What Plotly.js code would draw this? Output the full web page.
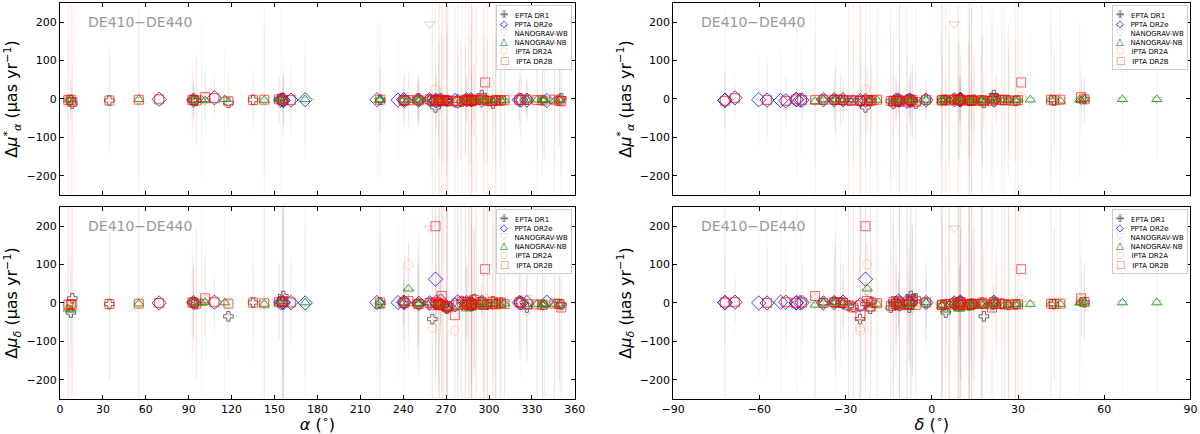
<!DOCTYPE html>
<html>
<head>
<meta charset="utf-8">
<script src="https://cdn.plot.ly/plotly-3.0.1.min.js"></script>
<style>
  html, body { margin: 0; padding: 0; background: #fff; }
  #chart { width: 1200px; height: 434px; }
</style>
</head>
<body>
<div id="chart"></div>
<script>
// pulsars: name, right ascension and declination (deg)
const psrName = ['J0023+0923','J0030+0451','J0034-0534','J0218+4232','J0340+4130','J0437-4715','J0610-2100','J0613-0200','J0621+1002','J0636+5128',
  'J0645+5158','J0711-6830','J0740+6620','J0751+1807','J0900-3144','J0931-1902','J1012+5307','J1017-7156','J1022+1001','J1024-0719',
  'J1045-4509','J1125-6014','J1125+7819','J1446-4701','J1453+1902','J1455-3330','J1545-4550','J1600-3053','J1603-7202','J1614-2230',
  'J1640+2224','J1643-1224','J1713+0747','J1721-2457','J1730-2304','J1732-5049','J1738+0333','J1741+1351','J1744-1134','J1747-4036',
  'J1751-2857','J1801-1417','J1802-2124','J1804-2717','J1824-2452A','J1832-0836','J1843-1113','J1853+1303','J1857+0943','J1903+0327',
  'J1909-3744','J1910+1256','J1911-1114','J1911+1347','J1918-0642','J1923+2515','J1939+2134','J1944+0907','J1946+3417','J1949+3106',
  'J1955+2908','J2010-1323','J2017+0603','J2019+2425','J2033+1734','J2043+1711','J2124-3358','J2129-5721','J2145-0750','J2214+3000',
  'J2229+2643','J2234+0611','J2234+0944','J2241-5236','J2302+4442','J2317+1439','J2322+2057'];
const psrRa = [5.82,7.61,8.59,34.53,55.10,69.32,92.56,93.43,95.31,99.02,
  101.46,107.98,115.19,117.79,135.05,142.83,153.14,154.46,155.74,156.16,
  161.46,171.48,171.44,221.65,223.35,223.95,236.37,240.22,240.97,243.65,
  250.07,250.91,258.46,260.36,262.59,263.20,264.70,265.38,266.12,266.95,
  267.86,270.42,270.54,271.20,276.13,278.13,280.92,283.47,284.40,285.80,
  287.45,287.54,287.96,287.96,289.70,290.98,294.91,296.01,296.60,297.30,
  298.89,302.67,304.34,304.86,308.34,310.84,321.18,322.32,326.46,333.66,
  337.38,338.60,338.70,340.42,345.70,349.29,350.57];
const psrDec = [9.39,4.86,-5.58,42.54,41.51,-47.25,-21.01,-2.01,10.04,51.48,
  51.98,-68.51,66.34,18.13,-31.74,-19.05,53.12,-71.95,10.03,-7.32,
  -45.16,-60.24,78.32,-47.02,19.04,-33.51,-45.84,-30.90,-72.05,-22.51,
  22.40,-12.42,7.79,-24.96,-23.08,-50.82,3.55,13.86,-11.58,-40.60,
  -28.96,-14.28,-21.41,-27.29,-24.87,-8.61,-11.23,13.06,9.72,3.46,
  -37.74,12.94,-11.24,13.80,-6.71,25.26,21.58,9.12,34.29,31.11,
  29.15,-13.39,6.05,24.42,17.58,17.19,-33.98,-57.35,-7.84,30.01,
  26.73,6.19,9.74,-52.61,44.71,14.66,20.96];

// EPTA DR1
const eptaPsr = ['J0030+0451','J0034-0534','J0218+4232','J0610-2100','J0613-0200','J0621+1002','J0751+1807','J0900-3144','J1012+5307','J1022+1001',
  'J1024-0719','J1455-3330','J1600-3053','J1640+2224','J1643-1224','J1713+0747','J1721-2457','J1730-2304','J1738+0333','J1744-1134',
  'J1751-2857','J1801-1417','J1802-2124','J1804-2717','J1843-1113','J1853+1303','J1857+0943','J1909-3744','J1910+1256','J1911+1347',
  'J1911-1114','J1918-0642','J1939+2134','J1955+2908','J2010-1323','J2019+2425','J2033+1734','J2124-3358','J2145-0750','J2229+2643',
  'J2317+1439','J2322+2057'];
const eptaDmuA = [-3,-12,-4,-3,-2,-5,-10,-2,0,2, -5,-2,-3,1,-4,-1,-5,-22,-3,-2, -4,-6,-5,-3,-7,-3,-1,-2,-5,-4, -6,-3,10,-5,-12,-3,-4,-2,-2,-3, -2,2];
const eptaDmuD = [-25,12,-3,2,1,-3,-35,1,2,3, 18,1,0,-2,-3,0,-42,-3,-5,-2, -8,-12,-15,-10,5,-4,2,0,-6,-2, -8,10,3,-4,4,-2,1,3,-12,-5, -3,-4];
const eptaErrA = [60,90,140,50,30,120,45,80,25,40, 70,90,30,40,45,8,180,150,110,20, 160,200,180,170,150,140,40,10,200,60, 90,50,20,160,70,180,170,50,40,120, 90,200];
const eptaErrD = [150,250,200,90,60,200,110,160,40,300, 200,180,60,80,150,15,300,260,220,80, 280,300,260,280,300,220,90,30,300,150, 240,180,40,300,200,300,280,100,150,240, 200,300];

// PPTA DR2e
const pptaPsr = ['J0437-4715','J0613-0200','J0711-6830','J1017-7156','J1022+1001','J1024-0719','J1045-4509','J1125-6014','J1446-4701','J1545-4550',
  'J1600-3053','J1603-7202','J1643-1224','J1713+0747','J1730-2304','J1732-5049','J1744-1134','J1824-2452A','J1832-0836','J1857+0943',
  'J1909-3744','J1939+2134','J2124-3358','J2129-5721','J2145-0750','J2241-5236'];
const pptaDmuA = [-1,-3,3,-3,-2,-4,-3,-2,-2,-3, -2,-4,-3,-2,-4,-5,-3,-4,-6,-2, -2,-3,-2,-3,-3,-4];
const pptaDmuD = [0,1,2,1,2,0,1,0,1,1, 2,1,-1,0,62,2,5,-5,3,1, 0,2,1,0,1,2];
const pptaErrA = [5,40,60,400,30,60,90,120,200,150, 30,80,50,10,90,70,20,100,120,60, 5,15,60,110,40,130];
const pptaErrD = [8,90,80,400,400,250,120,200,300,200, 60,400,120,20,250,150,60,300,200,90, 10,30,120,200,150,250];

// NANOGrav 12.5 yr (same pulsars for WB and NB)
const ngPsr = ['J0023+0923','J0030+0451','J0340+4130','J0613-0200','J0636+5128','J0645+5158','J0740+6620','J0931-1902','J1012+5307','J1024-0719',
  'J1125+7819','J1453+1902','J1455-3330','J1600-3053','J1614-2230','J1640+2224','J1643-1224','J1713+0747','J1738+0333','J1741+1351',
  'J1744-1134','J1747-4036','J1832-0836','J1853+1303','J1857+0943','J1903+0327','J1909-3744','J1910+1256','J1911+1347','J1918-0642',
  'J1923+2515','J1939+2134','J1944+0907','J1946+3417','J1955+2908','J2010-1323','J2017+0603','J2033+1734','J2043+1711','J2145-0750',
  'J2214+3000','J2229+2643','J2234+0611','J2234+0944','J2302+4442','J2317+1439'];
const ngwDmuA = [-3,-1,-2,-2,-3,-5,-2,-4,-1,-6, -2,-4,-3,-5,-2,-3,-4,195,-2,-5, -3,-5,-4,-3,-1,-6,-1,-5,-2,-3, -3,-2,-4,-3,-5,-5,-2,-4,-5,-2, -3,-4,-3,-3,-4,-2];
const ngwDmuD = [-12,-15,-3,2,1,3,0,-2,1,-1, 2,-6,1,1,30,0,-2,195,-5,-3, 0,-4,-8,-2,-12,-6,1,-10,-3,-1, -5,2,-8,-2,-4,-6,-2,-5,-1,14, -2,-4,-3,-1,-2,-5];
const ngwErrA = [160,45,200,55,210,95,130,200,65,110, 160,210,130,45,70,65,75,9,160,150, 35,180,170,150,55,180,12,170,85,95, 170,18,160,180,170,160,170,180,130,65, 170,150,160,170,170,130];
const ngwErrD = [300,100,300,130,300,160,250,300,110,250, 300,300,250,100,130,160,190,14,300,300, 90,300,300,280,130,300,22,300,210,210, 300,35,300,300,300,250,300,300,250,160, 300,280,300,300,300,260];
const ngbDmuA = [-2,0,-1,-3,-2,-4,-1,-3,-2,-5, -1,-3,-2,-4,-3,-2,-5,-1,-3,-4, -2,-6,-3,-4,-2,-5,-2,-6,-3,-4, -2,-3,-5,-2,-4,-6,-3,-5,-4,-3, -2,-3,-4,-2,-5,-3];
const ngbDmuD = [-15,-18,-2,1,0,2,1,-3,0,-2, 1,-8,2,0,37,-1,-3,0,-6,-4, -1,-5,-10,-3,-15,-8,0,-12,-4,-2, -6,1,-10,-3,-5,-8,-3,-6,-2,-4, -3,-5,-4,-2,-3,-6];
const ngbErrA = [150,40,200,50,200,90,120,180,60,100, 150,200,120,40,60,60,70,8,150,140, 30,170,160,140,50,170,10,160,80,90, 160,15,150,170,160,150,160,170,120,60, 160,140,150,160,160,120];
const ngbErrD = [300,90,300,120,300,150,250,300,100,250, 300,300,250,90,120,150,180,12,300,300, 80,300,300,280,120,300,20,300,200,200, 300,30,300,300,300,250,300,300,250,150, 300,280,300,300,300,250];

// IPTA DR2 (same pulsars for A and B)
const iptaPsr = ['J0023+0923','J0030+0451','J0034-0534','J0218+4232','J0340+4130','J0437-4715','J0610-2100','J0613-0200','J0621+1002','J0645+5158',
  'J0711-6830','J0751+1807','J0900-3144','J0931-1902','J1012+5307','J1022+1001','J1024-0719','J1045-4509','J1455-3330','J1600-3053',
  'J1603-7202','J1614-2230','J1640+2224','J1643-1224','J1713+0747','J1721-2457','J1730-2304','J1732-5049','J1738+0333','J1741+1351',
  'J1744-1134','J1747-4036','J1751-2857','J1801-1417','J1802-2124','J1804-2717','J1824-2452A','J1832-0836','J1843-1113','J1853+1303',
  'J1857+0943','J1903+0327','J1909-3744','J1910+1256','J1911+1347','J1911-1114','J1918-0642','J1923+2515','J1939+2134','J1944+0907',
  'J1949+3106','J1955+2908','J2010-1323','J2017+0603','J2019+2425','J2033+1734','J2043+1711','J2124-3358','J2129-5721','J2145-0750',
  'J2214+3000','J2229+2643','J2302+4442','J2317+1439','J2322+2057'];
const iptaDmuA = [-2,-1,-6,-3,-1,0,-2,-1,-3,3, 3,-4,-2,-1,0,-1,-3,-2,-1,-2, -4,-2,-1,-3,0,-3,25,-4,-2,-3,
  -1,-2,-3,-4,-5,-3,-4,-6,-4,-2, 0,-3,-1,-4,-3,-5,-2,-1,0,-2, 5,-4,-5,-3,-2,-3,-2,-1,-2,-1, -2,-3,-1,-4,-5];
const iptaDmuD = [-4,-2,-3,-2,-1,0,1,2,-1,8, 3,-1,2,0,3,4,6,2,2,1, 2,100,-1,-2,1,-65,10,3,-4,-2,
  0,10,-5,-6,-8,-10,-72,-4,4,-3, 3,-5,1,-4,-1,-5,6,-3,3,-4, 10,-2,4,-3,-1,2,-2,3,1,-20, -3,-4,-1,-2,-10];
const iptaErrA = [300,250,300,100,300,8,80,50,90,50, 35,70,50,300,50,50,70,50,70,50, 60,70,60,50,15,300,300,50,300,300,
  35,300,300,300,300,300,300,300,300,300, 50,300,8,300,300,250,90,300,25,300, 300,300,180,300,250,300,300,70,80,50, 300,180,300,100,300];
const iptaErrD = [400,350,400,180,400,12,130,90,180,90, 50,130,90,400,90,350,250,90,130,90, 100,130,100,90,25,400,400,90,400,400,
  50,400,400,400,400,400,400,400,400,400, 90,400,12,400,400,350,180,400,45,400, 400,400,250,400,350,400,400,130,130,90, 400,250,400,180,400];
const iptbDmuA = [-3,-2,-8,-4,-2,-1,-3,-2,-4,5, 2,-6,-3,-2,-1,-2,-4,-3,-2,-3, -5,-3,-2,-4,-1,-4,-3,-5,-3,-4,
  -2,-3,-4,-5,-6,-4,-5,-7,-5,-3, -1,-4,-2,-5,-4,-6,-3,-2,-1,-3, 43,-5,-6,-4,-3,-4,-3,-2,-3,-2, -3,-4,-2,-5,-6];
const iptbDmuD = [-5,-3,-5,-3,-2,0,1,1,-2,12, 2,-2,1,-1,2,3,5,1,1,0, 1,5,-2,-3,0,-6,200,2,-5,-3,
  -1,18,-6,-8,-10,-12,-32,-5,3,-4, 2,-6,0,-5,-2,-6,8,-4,2,-5, 88,-3,3,-4,-2,1,-3,2,0,-3, -4,-5,-2,-3,-12];
const iptbErrA = [400,300,400,120,400,10,100,60,110,60, 40,80,60,400,60,60,80,60,80,60, 70,80,70,60,20,400,400,60,400,400,
  40,400,400,400,400,400,400,400,400,400, 60,400,10,400,400,300,100,400,30,400, 400,400,200,400,300,400,400,80,90,60, 400,200,400,120,400];
const iptbErrD = [400,400,400,200,400,15,150,100,200,100, 60,150,100,400,100,400,300,100,150,100, 120,150,120,100,30,400,400,100,400,400,
  60,400,400,400,400,400,400,400,400,400, 100,400,15,400,400,400,200,400,50,400, 400,400,300,400,400,400,400,150,150,100, 400,300,400,200,400];

// estilos de cada serie
const series = [
  {name: 'EPTA DR1', psr: eptaPsr, dA: eptaDmuA, dD: eptaDmuD, eA: eptaErrA, eD: eptaErrD,
   symbol: 'cross-open', size: 8, color: 'rgba(50,50,50,0.7)', err: 'rgba(0,0,0,0.035)', glyph: '✙', gcol: 'rgba(60,60,60,0.8)'},
  {name: 'PPTA DR2e', psr: pptaPsr, dA: pptaDmuA, dD: pptaDmuD, eA: pptaErrA, eD: pptaErrD,
   symbol: 'diamond-open', size: 11, color: 'rgba(0,0,255,0.75)', err: 'rgba(0,0,255,0.04)', glyph: '◇', gcol: 'blue'},
  {name: 'NANOGRAV-WB', psr: ngPsr, dA: ngwDmuA, dD: ngwDmuD, eA: ngwErrA, eD: ngwErrD,
   symbol: 'triangle-down-open', size: 9, color: 'rgba(150,150,150,0.35)', err: 'rgba(120,120,120,0.02)', glyph: '▽', gcol: 'rgba(150,150,150,0.5)'},
  {name: 'NANOGRAV-NB', psr: ngPsr, dA: ngbDmuA, dD: ngbDmuD, eA: ngbErrA, eD: ngbErrD,
   symbol: 'triangle-up-open', size: 9, color: 'rgba(0,150,0,0.8)', err: 'rgba(0,140,0,0.045)', glyph: '△', gcol: 'green'},
  {name: 'IPTA DR2A', psr: iptaPsr, dA: iptaDmuA, dD: iptaDmuD, eA: iptaErrA, eD: iptaErrD,
   symbol: 'circle-open', size: 9, color: 'rgba(255,150,60,0.4)', err: 'rgba(255,120,60,0.025)', glyph: '○', gcol: 'rgba(255,160,80,0.6)'},
  {name: 'IPTA DR2B', psr: iptaPsr, dA: iptbDmuA, dD: iptbDmuD, eA: iptbErrA, eD: iptbErrD,
   symbol: 'square-open', size: 9, color: 'rgba(255,0,0,0.6)', err: 'rgba(255,0,0,0.06)', glyph: '□', gcol: 'rgba(255,0,0,0.7)'}
];

// paneles: eje x (alfa o delta) y componente
const paneles = [
  {xa: 'x',  ya: 'y',  coord: psrRa,  comp: 'A'},
  {xa: 'x2', ya: 'y2', coord: psrDec, comp: 'A'},
  {xa: 'x3', ya: 'y3', coord: psrRa,  comp: 'D'},
  {xa: 'x4', ya: 'y4', coord: psrDec, comp: 'D'}
];

let data = [];
paneles.forEach(p => {
  series.forEach(s => {
    let xs = s.psr.map(n => p.coord[psrName.indexOf(n)]);
    data.push({
      x: xs,
      y: p.comp === 'A' ? s.dA : s.dD,
      xaxis: p.xa, yaxis: p.ya,
      type: 'scatter', mode: 'markers', name: s.name, showlegend: false,
      marker: {symbol: s.symbol, size: s.size, color: s.color, line: {color: s.color, width: 1}},
      error_y: {type: 'data', array: p.comp === 'A' ? s.eA : s.eD, visible: true,
                color: s.err, thickness: 1.2, width: 0}
    });
  });
});

const fuente = 'DejaVu Sans, sans-serif';
function ejeX(dom, rango, anchor, etiquetas, titulo) {
  let ax = {
    domain: dom, range: rango, anchor: anchor, dtick: 30, tick0: rango[0],
    showline: true, linecolor: '#000', linewidth: 1, mirror: 'ticks',
    ticks: 'inside', ticklen: 4, tickwidth: 1, tickcolor: '#000',
    showgrid: false, zeroline: false, showticklabels: etiquetas,
    tickfont: {size: 11, color: '#000'}
  };
  if (titulo) ax.title = {text: titulo, font: {size: 16}, standoff: 10};
  return ax;
}
function ejeY(dom, anchor, titulo) {
  return {
    domain: dom, range: [-250, 250], anchor: anchor, tickvals: [-200, -100, 0, 100, 200],
    showline: true, linecolor: '#000', linewidth: 1, mirror: 'ticks',
    ticks: 'inside', ticklen: 4, tickwidth: 1, tickcolor: '#000',
    showgrid: false, zeroline: false, tickfont: {size: 11, color: '#000'},
    title: {text: titulo, font: {size: 16}, standoff: 4}
  };
}

const tituloA = 'Δ<i>μ</i><sup>*</sup><sub><i>α</i></sub> (μas yr<sup>−1</sup>)';
const tituloD = 'Δ<i>μ</i><sub><i>δ</i></sub> (μas yr<sup>−1</sup>)';
const domIzq = [0.05, 0.479], domDer = [0.561, 0.992];
const domSup = [0.551, 0.993], domInf = [0.081, 0.523];

// leyenda dibujada como texto en cada panel
const textoLeyenda = series.map(s =>
  `<span style="color:${s.gcol};font-size:10px">${s.glyph}</span>   ${s.name}`).join('<br>');

let anotaciones = [];
paneles.forEach(p => {
  anotaciones.push({
    xref: p.xa + ' domain', yref: p.ya + ' domain', x: 0.995, y: 0.99,
    xanchor: 'right', yanchor: 'top', align: 'left', showarrow: false,
    text: textoLeyenda, font: {size: 7, family: fuente, color: '#000'},
    bordercolor: '#cccccc', borderwidth: 1, borderpad: 3, bgcolor: 'rgba(255,255,255,0.85)'
  });
  anotaciones.push({
    xref: p.xa + ' domain', yref: p.ya + ' domain', x: 0.05, y: 0.9,
    xanchor: 'left', yanchor: 'middle', showarrow: false,
    text: 'DE410−DE440', font: {size: 14, family: fuente, color: '#999999'}
  });
});

const layout = {
  width: 1200, height: 434,
  margin: {l: 0, r: 0, t: 0, b: 0},
  paper_bgcolor: '#fff', plot_bgcolor: '#fff',
  font: {family: fuente, color: '#000'},
  showlegend: false,
  xaxis: ejeX(domIzq, [0, 360], 'y', false),
  yaxis: ejeY(domSup, 'x', tituloA),
  xaxis2: ejeX(domDer, [-90, 90], 'y2', false),
  yaxis2: ejeY(domSup, 'x2', tituloA),
  xaxis3: ejeX(domIzq, [0, 360], 'y3', true, '<i>α</i> (<sup>∘</sup>)'),
  yaxis3: ejeY(domInf, 'x3', tituloD),
  xaxis4: ejeX(domDer, [-90, 90], 'y4', true, '<i>δ</i> (<sup>∘</sup>)'),
  yaxis4: ejeY(domInf, 'x4', tituloD),
  annotations: anotaciones
};

Plotly.newPlot('chart', data, layout, {displayModeBar: false, staticPlot: true});
</script>
</body>
</html>
